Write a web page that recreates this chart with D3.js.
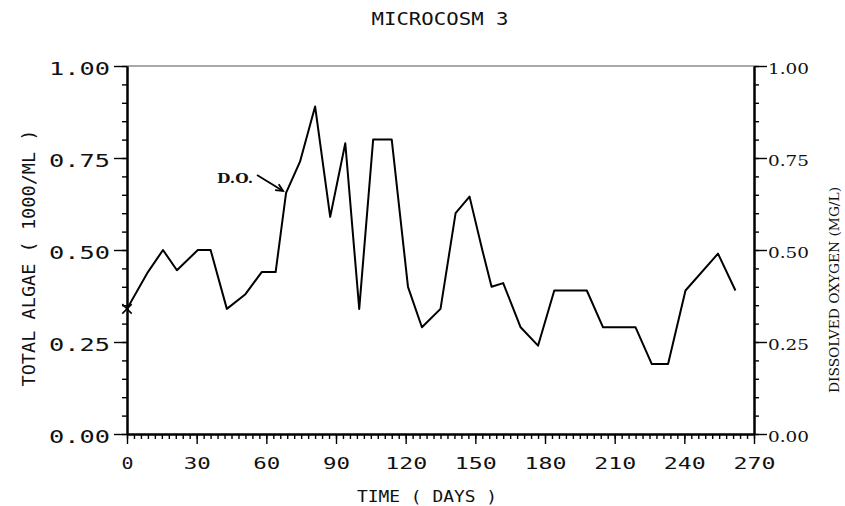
<!DOCTYPE html>
<html>
<head>
<meta charset="utf-8">
<script src="https://cdn.jsdelivr.net/npm/d3@7"></script>
<style>
  html, body { margin: 0; padding: 0; background: #fff; }
  svg { display: block; }
</style>
</head>
<body>
<svg id="chart" width="845" height="506"></svg>
<script>
// Dissolved oxygen record for microcosm 3
const days = [0, 9, 15.5, 21.5, 30.5, 36, 43, 51, 58, 64, 68.5, 74.5, 81, 87.5, 94, 100,
  106, 114, 121, 127, 135, 141.5, 147.5, 153, 157, 162, 169.5, 177, 184, 198, 205, 219,
  226, 233, 240.5, 254.5, 262];
const oxygen = [0.34, 0.44, 0.50, 0.445, 0.50, 0.50, 0.34, 0.38, 0.44, 0.44, 0.655, 0.74,
  0.89, 0.59, 0.79, 0.34, 0.80, 0.80, 0.40, 0.29, 0.34, 0.60, 0.645, 0.50, 0.40, 0.41,
  0.29, 0.24, 0.39, 0.39, 0.29, 0.29, 0.19, 0.19, 0.39, 0.49, 0.39];

const yTicks = [0, 0.25, 0.5, 0.75, 1.0];
const xTicks = [0, 30, 60, 90, 120, 150, 180, 210, 240, 270];
const titleText = "MICROCOSM 3";
const leftTitle = "TOTAL ALGAE ( 1000/ML )";
const rightTitle = "DISSOLVED OXYGEN (MG/L)";
const bottomTitle = "TIME ( DAYS )";
const noteText = "D.O.";

const plotterFont = "'DejaVu Sans Mono', monospace";
const typeFont = "'DejaVu Serif', serif";

const svg = d3.select("#chart");
const x = d3.scaleLinear().domain([0, 270]).range([127, 754]);
const y = d3.scaleLinear().domain([0, 1]).range([434, 66]);
const fmt = d3.format(".2f");

// frame top edge
svg.append("line")
  .attr("x1", x(0)).attr("x2", x(270))
  .attr("y1", y(1)).attr("y2", y(1))
  .attr("stroke", "#555").attr("stroke-width", 1);

function styleAxis(g, width) {
  g.selectAll("path.domain").attr("stroke", "#000").attr("stroke-width", width);
  g.selectAll(".tick line").attr("stroke", "#000").attr("stroke-width", 1.4);
}

// plotter lettering: wide glyphs, fixed pitch per character
function pitch(sel, perChar) {
  sel.attr("textLength", function () { return this.textContent.length * perChar - 3; })
    .attr("lengthAdjust", "spacingAndGlyphs");
}

// left axis: minor ticks then labelled major ticks
svg.append("g").attr("transform", `translate(${x(0)},0)`)
  .call(d3.axisLeft(y).tickValues(d3.range(0, 1.0001, 0.05)).tickSize(5).tickSizeOuter(0).tickFormat(""))
  .call(g => styleAxis(g, 2));
const gl = svg.append("g").attr("transform", `translate(${x(0)},0)`)
  .call(d3.axisLeft(y).tickValues(yTicks).tickSize(13).tickSizeOuter(0).tickFormat(fmt).tickPadding(4))
  .call(g => styleAxis(g, 2));
gl.selectAll("text")
  .attr("font-family", plotterFont).attr("font-size", 18)
  .attr("fill", "#111").attr("dy", "0.45em")
  .call(pitch, 16);

// right axis
svg.append("g").attr("transform", `translate(${x(270)},0)`)
  .call(d3.axisRight(y).tickValues(d3.range(0, 1.0001, 0.05)).tickSize(5).tickSizeOuter(0).tickFormat(""))
  .call(g => styleAxis(g, 2));
const gr = svg.append("g").attr("transform", `translate(${x(270)},0)`)
  .call(d3.axisRight(y).tickValues(yTicks).tickSize(13).tickSizeOuter(0).tickFormat(fmt).tickPadding(1))
  .call(g => styleAxis(g, 2));
gr.selectAll("text")
  .attr("font-family", typeFont).attr("font-size", 14)
  .attr("fill", "#111").attr("dy", "0.5em")
  .attr("textLength", 41).attr("lengthAdjust", "spacingAndGlyphs");

// bottom axis
svg.append("g").attr("transform", `translate(0,${y(0)})`)
  .call(d3.axisBottom(x).tickValues(d3.range(0, 271, 3)).tickSize(5).tickSizeOuter(0).tickFormat(""))
  .call(g => styleAxis(g, 2));
const gb = svg.append("g").attr("transform", `translate(0,${y(0)})`)
  .call(d3.axisBottom(x).tickValues(xTicks).tickSize(10).tickSizeOuter(0).tickFormat(d3.format("d")).tickPadding(14))
  .call(g => styleAxis(g, 2));
gb.selectAll("text")
  .attr("font-family", plotterFont).attr("font-size", 16)
  .attr("fill", "#111")
  .call(pitch, 15);

// titles
svg.append("text")
  .attr("x", 440).attr("y", 25).attr("text-anchor", "middle")
  .attr("font-family", plotterFont).attr("font-size", 17)
  .attr("textLength", 137).attr("lengthAdjust", "spacingAndGlyphs")
  .attr("fill", "#111").text(titleText);

svg.append("text")
  .attr("transform", "translate(35,258) rotate(-90)")
  .attr("text-anchor", "middle")
  .attr("font-family", plotterFont).attr("font-size", 17)
  .attr("textLength", 257).attr("lengthAdjust", "spacingAndGlyphs")
  .attr("fill", "#111").text(leftTitle);

svg.append("text")
  .attr("transform", "translate(839,290) rotate(-90)")
  .attr("text-anchor", "middle")
  .attr("font-family", typeFont).attr("font-size", 13)
  .attr("textLength", 206).attr("lengthAdjust", "spacingAndGlyphs")
  .attr("fill", "#111").text(rightTitle);

svg.append("text")
  .attr("x", 427).attr("y", 502).attr("text-anchor", "middle")
  .attr("font-family", plotterFont).attr("font-size", 16)
  .attr("textLength", 140).attr("lengthAdjust", "spacingAndGlyphs")
  .attr("fill", "#111").text(bottomTitle);

// oxygen trace
const line = d3.line().x((d, i) => x(days[i])).y(d => y(d));
svg.append("path")
  .attr("d", line(oxygen))
  .attr("fill", "none").attr("stroke", "#000")
  .attr("stroke-width", 2).attr("stroke-linejoin", "round");

// start marker
svg.append("path")
  .attr("transform", `translate(${x(days[0])},${y(oxygen[0])})`)
  .attr("d", d3.symbol().type(d3.symbolTimes).size(60)())
  .attr("fill", "none").attr("stroke", "#000").attr("stroke-width", 1.5);

// annotation with arrow pointing at the rising limb
const noteDay = 68.5, noteVal = 0.655;
const tipX = x(noteDay) - 3, tipY = y(noteVal) - 2;
svg.append("text")
  .attr("x", 217).attr("y", 183)
  .attr("font-family", typeFont).attr("font-weight", "bold").attr("font-size", 13)
  .attr("textLength", 36).attr("lengthAdjust", "spacingAndGlyphs")
  .attr("fill", "#111").text(noteText);
const sx = 257, sy = 175;
svg.append("line")
  .attr("x1", sx).attr("y1", sy).attr("x2", tipX).attr("y2", tipY)
  .attr("stroke", "#000").attr("stroke-width", 1.8);
const ang = Math.atan2(tipY - sy, tipX - sx);
const ah = 8, spread = 0.45;
svg.append("path")
  .attr("d", `M${tipX - ah * Math.cos(ang - spread)},${tipY - ah * Math.sin(ang - spread)}L${tipX},${tipY}L${tipX - ah * Math.cos(ang + spread)},${tipY - ah * Math.sin(ang + spread)}`)
  .attr("fill", "none").attr("stroke", "#000").attr("stroke-width", 1.8);
</script>
</body>
</html>
